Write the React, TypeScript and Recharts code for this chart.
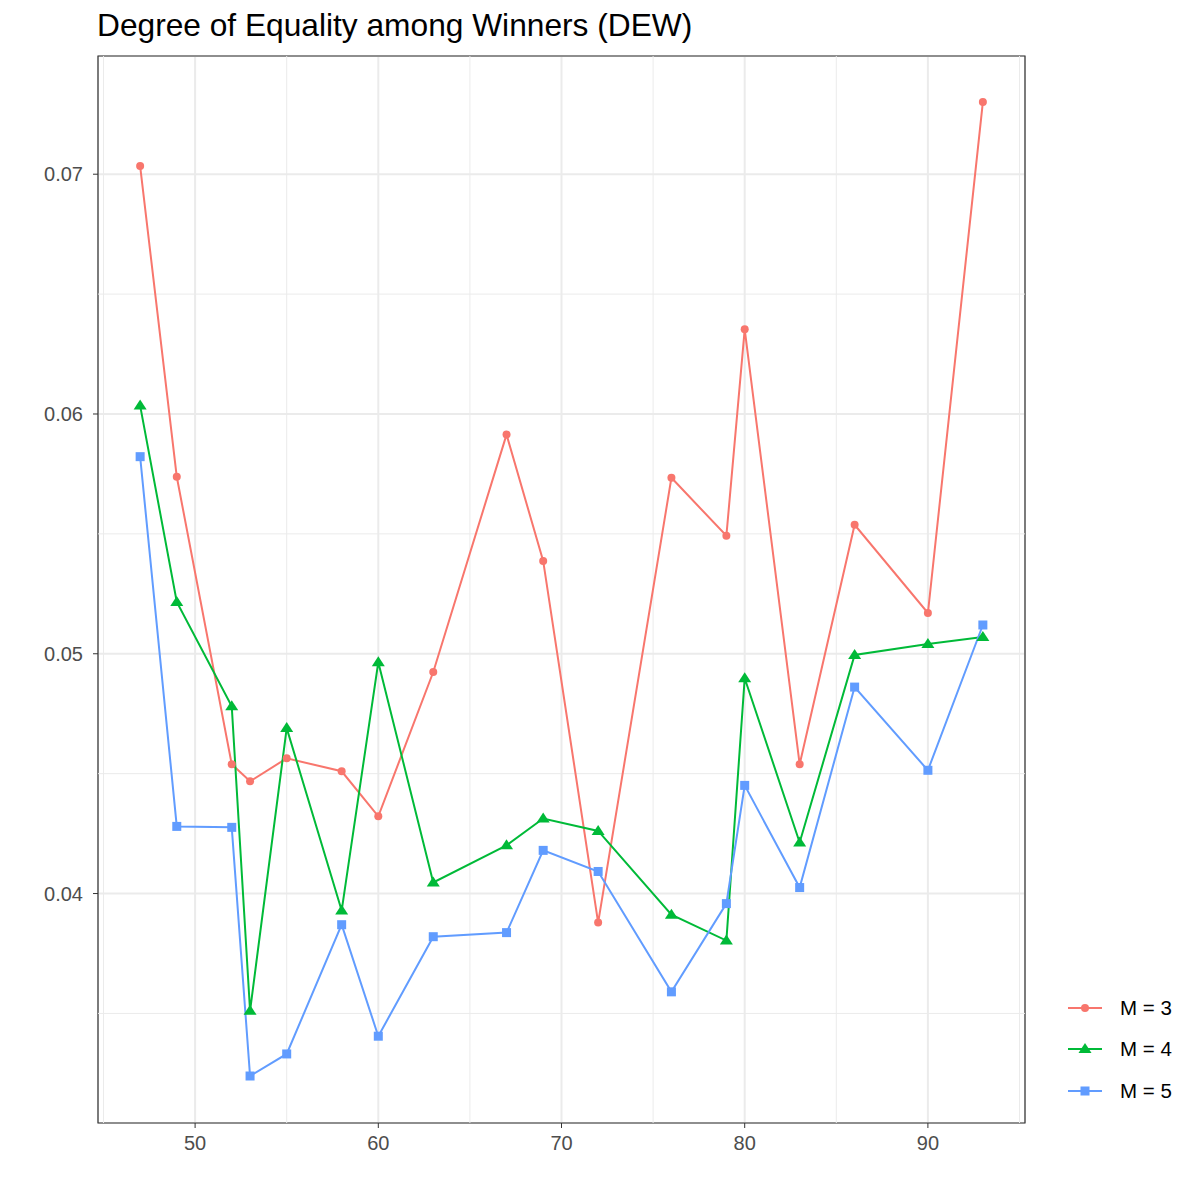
import { LineChart, Line, XAxis, YAxis, CartesianGrid, ReferenceLine, ReferenceArea } from "recharts";

const xValues = [47, 49, 52, 53, 55, 58, 60, 63, 67, 69, 72, 76, 79, 80, 83, 86, 90, 93];

const m3Values = [
  0.07034, 0.05738, 0.04539, 0.04468, 0.04564, 0.0451, 0.04322, 0.04924, 0.05914,
  0.05387, 0.03879, 0.05734, 0.05492, 0.06353, 0.04539, 0.05538, 0.0517, 0.07301,
];
const m4Values = [
  0.06035, 0.05216, 0.04781, 0.03511, 0.0469, 0.03929, 0.04965, 0.04046, 0.04201,
  0.04313, 0.04261, 0.03912, 0.03804, 0.04898, 0.04213, 0.04995, 0.05041, 0.0507,
];
const m5Values = [
  0.05822, 0.0428, 0.04276, 0.03239, 0.03331, 0.0387, 0.03405, 0.0382, 0.03837,
  0.0418, 0.04092, 0.0359, 0.03958, 0.04451, 0.04025, 0.04861, 0.04514, 0.0512,
];

const xTicks = [50, 60, 70, 80, 90];
const yTicks = [0.04, 0.05, 0.06, 0.07];
const xMinor = [45, 55, 65, 75, 85, 95];
const yMinor = [0.035, 0.045, 0.055, 0.065];
const legendLabels = ["M = 3", "M = 4", "M = 5"];

const X_DOMAIN: [number, number] = [44.7, 95.3];
const Y_DOMAIN: [number, number] = [0.03043, 0.07493];

const RED = "#F8766D";
const GREEN = "#00BA38";
const BLUE = "#619CFF";
const FONT = "'Liberation Sans', Arial, Helvetica, sans-serif";

const data = xValues.map((x, i) => ({ x, m3: m3Values[i], m4: m4Values[i], m5: m5Values[i] }));

const circleDot = (props: any) => {
  const { cx, cy, index } = props;
  return <circle key={`c-${index}`} cx={cx} cy={cy} r={4} fill={RED} />;
};

const triangleDot = (props: any) => {
  const { cx, cy, index } = props;
  return (
    <polygon
      key={`t-${index}`}
      points={`${cx},${cy - 6} ${cx - 6.5},${cy + 4} ${cx + 6.5},${cy + 4}`}
      fill={GREEN}
    />
  );
};

const squareDot = (props: any) => {
  const { cx, cy, index } = props;
  return <rect key={`s-${index}`} x={cx - 4.5} y={cy - 4.5} width={9} height={9} fill={BLUE} />;
};

const LegendKey = ({ color, shape }: { color: string; shape: string }) => (
  <svg width={36} height={20} style={{ display: "block" }}>
    <line x1={0} y1={10} x2={34} y2={10} stroke={color} strokeWidth={2} />
    {shape === "circle" && <circle cx={17} cy={10} r={4} fill={color} />}
    {shape === "triangle" && <polygon points="17,4 10.5,14 23.5,14" fill={color} />}
    {shape === "square" && <rect x={12.5} y={5.5} width={9} height={9} fill={color} />}
  </svg>
);

const legendItems = [
  { label: legendLabels[0], color: RED, shape: "circle" },
  { label: legendLabels[1], color: GREEN, shape: "triangle" },
  { label: legendLabels[2], color: BLUE, shape: "square" },
];

const tickStyle = { fill: "#4d4d4d", fontSize: 20, fontFamily: FONT };

export default function App() {
  return (
    <div style={{ position: "absolute", left: 0, top: 0, width: 1200, height: 1200, background: "#fff", fontFamily: FONT }}>
      <div style={{ position: "absolute", left: 97, top: 10, fontSize: 31.7, lineHeight: "31px", color: "#000", whiteSpace: "nowrap" }}>
        Degree of Equality among Winners (DEW)
      </div>
      <LineChart width={1200} height={1200} data={data} margin={{ top: 56, right: 175, bottom: 0, left: 0 }}>
        {xMinor.map((v) => (
          <ReferenceLine key={`xm-${v}`} x={v} stroke="#ebebeb" strokeWidth={1} />
        ))}
        {yMinor.map((v) => (
          <ReferenceLine key={`ym-${v}`} y={v} stroke="#ebebeb" strokeWidth={1} />
        ))}
        <CartesianGrid stroke="#ebebeb" strokeWidth={2} />
        <XAxis
          type="number"
          dataKey="x"
          domain={X_DOMAIN}
          ticks={xTicks}
          allowDataOverflow
          height={77}
          axisLine={false}
          tickLine={{ stroke: "#333", strokeWidth: 1 }}
          tickSize={5}
          tickMargin={8}
          tick={tickStyle}
        />
        <YAxis
          type="number"
          domain={Y_DOMAIN}
          ticks={yTicks}
          allowDataOverflow
          width={98}
          axisLine={false}
          tickLine={{ stroke: "#333", strokeWidth: 1 }}
          tickSize={5}
          tickMargin={10}
          tick={tickStyle}
          tickFormatter={(v: number) => v.toFixed(2)}
        />
        <Line dataKey="m3" stroke={RED} strokeWidth={2} dot={circleDot} activeDot={false} isAnimationActive={false} />
        <Line dataKey="m4" stroke={GREEN} strokeWidth={2} dot={triangleDot} activeDot={false} isAnimationActive={false} />
        <Line dataKey="m5" stroke={BLUE} strokeWidth={2} dot={squareDot} activeDot={false} isAnimationActive={false} />
        <ReferenceArea
          x1={X_DOMAIN[0]}
          x2={X_DOMAIN[1]}
          y1={Y_DOMAIN[0]}
          y2={Y_DOMAIN[1]}
          fill="none"
          fillOpacity={0}
          stroke="#333"
          strokeWidth={1.2}
        />
      </LineChart>
      <div style={{ position: "absolute", left: 1068, top: 987 }}>
        {legendItems.map((item) => (
          <div key={item.label} style={{ display: "flex", alignItems: "center", height: 41.5 }}>
            <LegendKey color={item.color} shape={item.shape} />
            <span style={{ marginLeft: 16, fontSize: 20.5, color: "#000", whiteSpace: "nowrap" }}>{item.label}</span>
          </div>
        ))}
      </div>
    </div>
  );
}
